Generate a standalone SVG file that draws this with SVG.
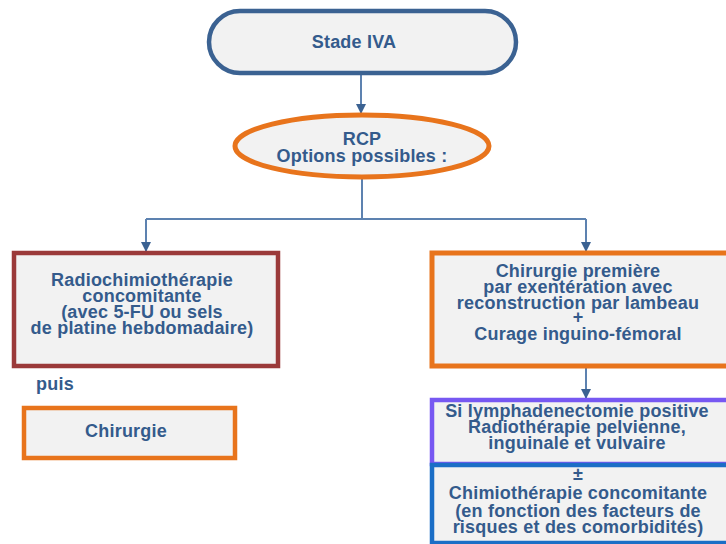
<svg xmlns="http://www.w3.org/2000/svg" width="726" height="544" viewBox="0 0 726 544">
<defs>
<marker id="arr" markerWidth="10" markerHeight="10" refX="9" refY="5" orient="auto" markerUnits="userSpaceOnUse">
<path d="M0,0 L10,5 L0,10 Z" fill="#3b6292"/>
</marker>
<style>
.t{font-family:"Liberation Sans",Arial,sans-serif;font-weight:bold;font-size:18px;letter-spacing:0.2px;fill:#345b8c;text-anchor:middle}
.box{fill:#f2f2f2}
.c{fill:none;stroke:#5d82b0;stroke-width:2}
</style>
</defs>
<rect width="726" height="544" fill="#ffffff"/>
<g id="connectors">
<path class="c" d="M361,75 V113" marker-end="url(#arr)"/>
<path class="c" d="M362,179 V219"/>
<path class="c" d="M146,219 H586"/>
<path class="c" d="M146,219 V251" marker-end="url(#arr)"/>
<path class="c" d="M586,219 V251" marker-end="url(#arr)"/>
<path class="c" d="M586,368 V398" marker-end="url(#arr)"/>
</g>
<g id="stade">
<rect class="box" x="209" y="11" width="307" height="62" rx="31" stroke="#3b6292" stroke-width="4.5"/>
<text class="t" x="354" y="48">Stade IVA</text>
</g>
<g id="rcp">
<ellipse class="box" cx="362" cy="146" rx="127" ry="31" stroke="#e8741c" stroke-width="5"/>
<text class="t" x="362" y="145">RCP</text>
<text class="t" x="362" y="162">Options possibles :</text>
</g>
<g id="radiochimio">
<rect class="box" x="14" y="253" width="264" height="113" stroke="#9b3a3a" stroke-width="4.5"/>
<text class="t" x="142" y="286">Radiochimiothérapie</text>
<text class="t" x="142" y="302">concomitante</text>
<text class="t" x="142" y="318">(avec 5-FU ou sels</text>
<text class="t" x="142" y="334">de platine hebdomadaire)</text>
</g>
<g id="puis">
<text class="t" x="55" y="390">puis</text>
</g>
<g id="chirurgie">
<rect class="box" x="24" y="408" width="211" height="50" stroke="#e8741c" stroke-width="4.5"/>
<text class="t" x="126" y="437">Chirurgie</text>
</g>
<g id="chirurgie-premiere">
<rect class="box" x="432" y="253" width="300" height="113" stroke="#e8741c" stroke-width="5"/>
<text class="t" x="578" y="277">Chirurgie première</text>
<text class="t" x="578" y="293">par exentération avec</text>
<text class="t" x="578" y="309">reconstruction par lambeau</text>
<text class="t" x="578" y="323">+</text>
<text class="t" x="578" y="340">Curage inguino-fémoral</text>
</g>
<g id="lymph">
<rect class="box" x="432" y="400" width="300" height="64" stroke="#7758f2" stroke-width="4.5"/>
<text class="t" x="577" y="417">Si lymphadenectomie positive</text>
<text class="t" x="577" y="433">Radiothérapie pelvienne,</text>
<text class="t" x="577" y="449">inguinale et vulvaire</text>
</g>
<g id="chimio">
<rect class="box" x="432" y="465" width="300" height="78" stroke="#1b6ec6" stroke-width="4.5"/>
<text class="t" x="578" y="480">±</text>
<text class="t" x="578" y="499">Chimiothérapie concomitante</text>
<text class="t" x="578" y="517">(en fonction des facteurs de</text>
<text class="t" x="578" y="533">risques et des comorbidités)</text>
</g>
</svg>
